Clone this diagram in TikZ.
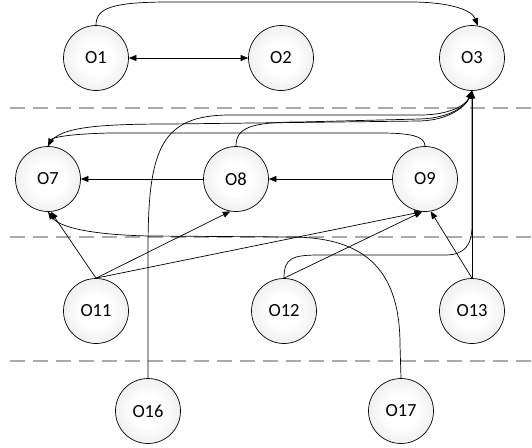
\documentclass[tikz,border=0pt]{standalone}
\usepackage{fontspec}
\setmainfont{Carlito}
\usetikzlibrary{arrows.meta}
\definecolor{nodefill}{RGB}{240,240,240}
\definecolor{sepgray}{RGB}{170,170,170}
\pgfdeclareradialshading{nodeshade}{\pgfpoint{0bp}{0bp}}{color(0bp)=(white); color(12bp)=(white); color(25bp)=(nodefill); color(50bp)=(nodefill)}
\begin{document}
\begin{tikzpicture}[x=1pt,y=-1pt,
  >={Triangle[length=7.5pt,width=6pt]},
  obj/.style={circle,draw,line width=0.7pt,shading=nodeshade,minimum size=65pt,inner sep=0pt,font=\fontsize{18.5}{22}\selectfont},
  sepline/.style={draw=sepgray,line width=2pt,dash pattern=on 15pt off 8pt},
  conn/.style={line width=0.7pt,->}]
\useasboundingbox (0,0) rectangle (532,447);
% separators
\coordinate (s1a) at (10,108); \coordinate (s1b) at (532,108);
\coordinate (s2a) at (10,237); \coordinate (s2b) at (532,237);
\coordinate (s3a) at (10,361); \coordinate (s3b) at (532,361);
\draw[sepline] (s1a) -- (s1b);
\draw[sepline] (s2a) -- (s2b);
\draw[sepline] (s3a) -- (s3b);
% nodes
\node[obj] (O1) at (96,58) {O1};
\node[obj] (O2) at (281,58) {O2};
\node[obj] (O3) at (472,58) {O3};
\node[obj] (O7) at (48,179) {O7};
\node[obj] (O8) at (236,179) {O8};
\node[obj] (O9) at (425,179) {O9};
\node[obj] (O11) at (96,311) {O11};
\node[obj] (O12) at (284,311) {O12};
\node[obj] (O13) at (472,311) {O13};
\node[obj] (O16) at (148,411) {O16};
\node[obj] (O17) at (401,411) {O17};
% edges
\draw[line width=0.7pt,<->] (O1) -- (O2);
\draw[conn] (O1.north) .. controls (96,8) and (112,2) .. (170,2) -- (410,2) .. controls (450,2) and (472,10) .. (O3.80);
\draw[conn] (O16.north) -- (148,250) .. controls (148,150) and (160,115) .. (230,115) -- (420,115) .. controls (450,115) and (466,105) .. (O3.south);
\draw[conn] (O7.north) .. controls (55,128) and (90,124) .. (170,124) -- (420,121) .. controls (450,120) and (466,106) .. (O3.south);
\draw[conn] (O8.north) .. controls (236,128) and (250,122) .. (300,122) -- (420,119) .. controls (450,118) and (466,106) .. (O3.south);
\draw[conn] (O12.north) .. controls (284,258) and (292,255) .. (320,255) -- (445,255) .. controls (465,255) and (472,245) .. (472,225) -- (O3.south);
\draw[conn] (O13) -- (O3);
\draw[conn] (O9.north) .. controls (425,136) and (410,133) .. (380,133) -- (110,133) .. controls (65,134) and (52,138) .. (O7.north);
\draw[conn] (O8) -- (O7);
\draw[conn] (O9) -- (O8);
\draw[conn] (O11.north) -- (O7.-85);
\draw[conn] (O11.north) -- (O8.260);
\draw[conn] (O11.north) -- (O9.265);
\draw[conn] (O12.north) -- (O9.265);
\draw[conn] (O13.north) -- (O9.-80);
\draw[conn] (O17.north) -- (400,345) .. controls (400,265) and (360,237) .. (290,237) -- (150,236) .. controls (95,235) and (60,228) .. (O7.south);
\end{tikzpicture}
\end{document}
